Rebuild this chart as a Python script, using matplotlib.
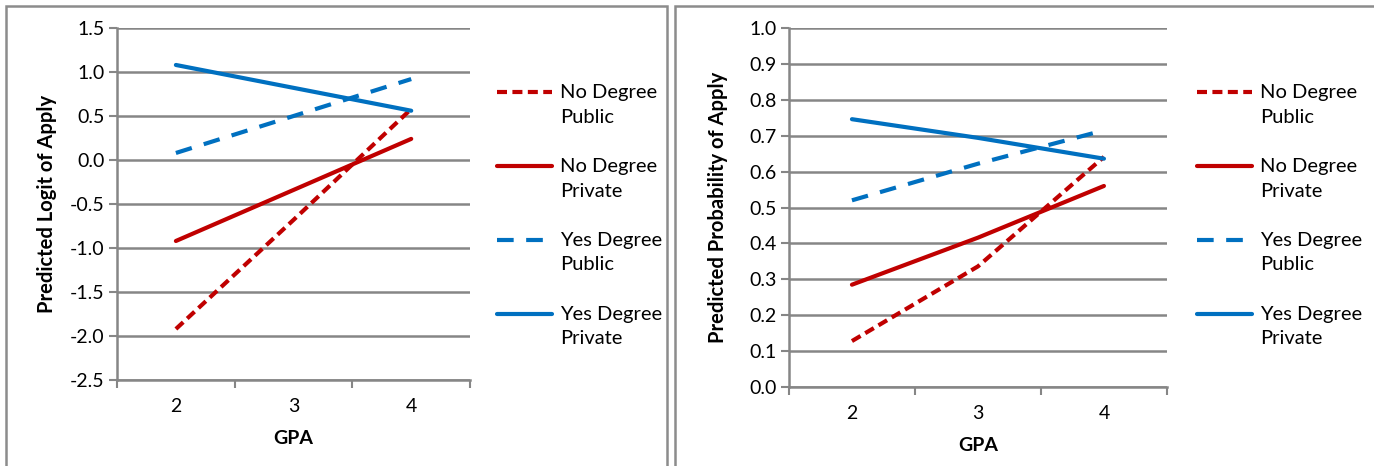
import numpy as np
import matplotlib
matplotlib.use("Agg")
import matplotlib.pyplot as plt
from matplotlib.patches import Rectangle
from matplotlib.legend_handler import HandlerLine2D

plt.rcParams['font.family'] = ['Lato', 'DejaVu Sans']

gpa = [2, 3, 4]
series = ["No Degree\nPublic", "No Degree\nPrivate", "Yes Degree\nPublic", "Yes Degree\nPrivate"]
logit_nd_pub = [-1.92, -0.68, 0.58]
logit_nd_priv = [-0.92, -0.34, 0.24]
logit_yd_pub = [0.08, 0.50, 0.92]
logit_yd_priv = [1.08, 0.82, 0.56]
prob_nd_pub = [0.128, 0.336, 0.641]
prob_nd_priv = [0.285, 0.416, 0.560]
prob_yd_pub = [0.520, 0.622, 0.715]
prob_yd_priv = [0.746, 0.694, 0.636]

red = "#C00000"
blue = "#0070C0"
grid = "#868686"
styles = [(red, (0, (2.4, 1.3))), (red, "-"), (blue, (0, (4, 3))), (blue, "-")]
LEG_FS = 14.5
LEG_LS = 1.55
LINE_PITCH = 18.0  # points between the two text rows


class TopLine(HandlerLine2D):
    # put the legend sample on the first text line
    def create_artists(self, legend, orig_handle, xdescent, ydescent,
                       width, height, fontsize, trans):
        arts = super().create_artists(legend, orig_handle, xdescent, ydescent,
                                      width, height, fontsize, trans)
        for a in arts:
            a.set_ydata(np.asarray(a.get_ydata()) + 0.5 * LINE_PITCH)
        return arts


def panel(ax, data, ylim, yticks, fmt, ylabel, leg_x, lpad):
    lines = []
    for vals, (c, ls) in zip(data, styles):
        ln, = ax.plot(gpa, vals, color=c, linestyle=ls, lw=3.0,
                      solid_capstyle='round', zorder=3)
        lines.append(ln)
    ax.set_xlim(1.5, 4.5)
    ax.set_ylim(*ylim)
    ax.set_yticks(yticks)
    ax.set_yticklabels([fmt % v for v in yticks])
    ax.set_xticks(gpa)
    ax.set_xticks([1.5, 2.5, 3.5, 4.5], minor=True)
    ax.tick_params(axis='x', which='major', length=0, pad=13, labelsize=14)
    ax.tick_params(axis='x', which='minor', length=6, width=1.5, color=grid)
    ax.tick_params(axis='y', length=6, width=1.5, color=grid, labelsize=14, pad=3)
    for s in ['top', 'right']:
        ax.spines[s].set_visible(False)
    for s in ['left', 'bottom']:
        ax.spines[s].set_color(grid)
        ax.spines[s].set_linewidth(1.8)
    ax.yaxis.grid(True, color=grid, lw=1.8)
    ax.set_axisbelow(True)
    ax.set_xlabel("GPA", fontweight='bold', fontsize=14, labelpad=11)
    ax.set_ylabel(ylabel, fontweight='bold', fontsize=14.5, labelpad=lpad)
    leg = ax.legend(lines, series, loc='upper left', bbox_to_anchor=(leg_x, 0.82),
                    bbox_transform=fig.transFigure, frameon=False,
                    prop={'size': LEG_FS},
                    handlelength=2.75, handletextpad=0.4, labelspacing=1.6,
                    handler_map={matplotlib.lines.Line2D: TopLine()},
                    borderpad=0, borderaxespad=0)
    for t in leg.get_texts():
        t.set_linespacing(LEG_LS)


fig = plt.figure(figsize=(13.74, 4.66), dpi=100)
ax1 = fig.add_axes([0.0852, 0.1845, 0.2569, 0.7554])
ax2 = fig.add_axes([0.5742, 0.1695, 0.2751, 0.7704])

panel(ax1, [logit_nd_pub, logit_nd_priv, logit_yd_pub, logit_yd_priv],
      (-2.5, 1.5), np.arange(-2.5, 1.51, 0.5), "%.1f",
      "Predicted Logit of Apply", 0.3617, 9)
panel(ax2, [prob_nd_pub, prob_nd_priv, prob_yd_pub, prob_yd_priv],
      (0.0, 1.0), np.arange(0.0, 1.01, 0.1), "%.1f",
      "Predicted Probability of Apply", 0.8712, 15)

fig.patches.append(Rectangle((6 / 1374, -0.1), 661 / 1374, 1.088, transform=fig.transFigure,
                             fill=False, edgecolor="#8c8c8c", lw=1.8))
fig.patches.append(Rectangle((675 / 1374, -0.1), 710 / 1374, 1.088, transform=fig.transFigure,
                             fill=False, edgecolor="#8c8c8c", lw=1.8))

fig.savefig("out.png", dpi=100)
